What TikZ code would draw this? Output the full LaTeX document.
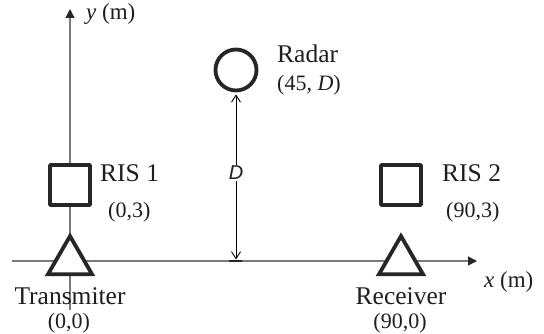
\documentclass[tikz,border=0pt]{standalone}
\usepackage{fontspec}
\setmainfont{Liberation Serif}
\newfontfamily\dsans{Liberation Sans}
\usetikzlibrary{arrows.meta,shapes.geometric}
\definecolor{axisgray}{HTML}{7A7A7A}
\definecolor{shapedark}{HTML}{262626}
\definecolor{txt}{HTML}{1E1E1E}
\begin{document}
\begin{tikzpicture}[x=1pt,y=-1pt,
  axisline/.style={draw=axisgray, line width=1.2pt, -{Triangle[length=9pt,width=9pt,color=shapedark]}},
  sqbox/.style={draw=shapedark, fill=white, line width=3.8pt, minimum size=40pt, inner sep=0pt, rounded corners=0.8pt},
  tri/.style={draw=shapedark, fill=white, line width=3.8pt, regular polygon, regular polygon sides=3, minimum size=50.8pt, inner sep=0pt},
  ring/.style={draw=shapedark, fill=white, line width=3.8pt, circle, minimum size=41pt, inner sep=0pt},
  namelbl/.style={text=txt, font=\fontsize{25.5}{28}\selectfont, inner sep=0pt},
  coordlbl/.style={text=txt, font=\fontsize{22}{25}\selectfont, inner sep=0pt},
  axislbl/.style={text=txt, font=\fontsize{23}{26}\selectfont, inner sep=0pt, anchor=base west},
  darrow/.style={draw=black, line width=0.9pt, {Straight Barb[length=7pt,width=9pt]}-{Straight Barb[length=7pt,width=9pt]}}
]
\useasboundingbox (0,0) rectangle (544,334);
% axes
\coordinate (xs) at (12,261);
\coordinate (xe) at (477,261);
\coordinate (ys) at (70,310);
\coordinate (ye) at (70,9);
\draw[axisline] (xs) -- (xe);
\draw[axisline] (ys) -- (ye);
\coordinate (da) at (229,261);
\coordinate (db) at (242,261);
\draw[shapedark, line width=1.6pt] (da) -- (db);
% shapes
\node[sqbox] (ris1) at (70,185) {};
\node[sqbox] (ris2) at (401,185) {};
\node[tri] (tx) at (70,261.5) {};
\node[tri] (rx) at (401,261.5) {};
\node[ring] (radar) at (236,70) {};
% D dimension
\coordinate (dfoot) at (236,259.5);
\draw[darrow, shorten <=2pt] (radar.south) -- (dfoot);
\node[fill=white, inner sep=1.5pt, text=txt, font=\dsans\itshape\fontsize{20}{22}\selectfont] (dlbl) at (236,173) {D};
% labels
\node[namelbl, anchor=base] (txname) at (70,304) {Transmiter};
\node[coordlbl, anchor=base] (txcoord) at (69,328) {(0,0)};
\node[namelbl, anchor=base] (rxname) at (401,304) {Receiver};
\node[coordlbl, anchor=base] (rxcoord) at (400,328) {(90,0)};
\node[namelbl, anchor=base west] (ris1name) at (100,182) {RIS 1};
\node[coordlbl, anchor=base west] (ris1coord) at (108,217.5) {(0,3)};
\node[namelbl, anchor=base west] (ris2name) at (442,182) {RIS 2};
\node[coordlbl, anchor=base west] (ris2coord) at (446,217.5) {(90,3)};
\node[namelbl, anchor=base west] (radarname) at (277,63) {Radar};
\node[coordlbl, anchor=base west] (radarcoord) at (277,90.5) {(45, \textit{D})};
\node[axislbl] (ylbl) at (86,20) {\textit{y} (m)};
\node[axislbl] (xlbl) at (484,287.5) {\textit{x} (m)};
\end{tikzpicture}
\end{document}
